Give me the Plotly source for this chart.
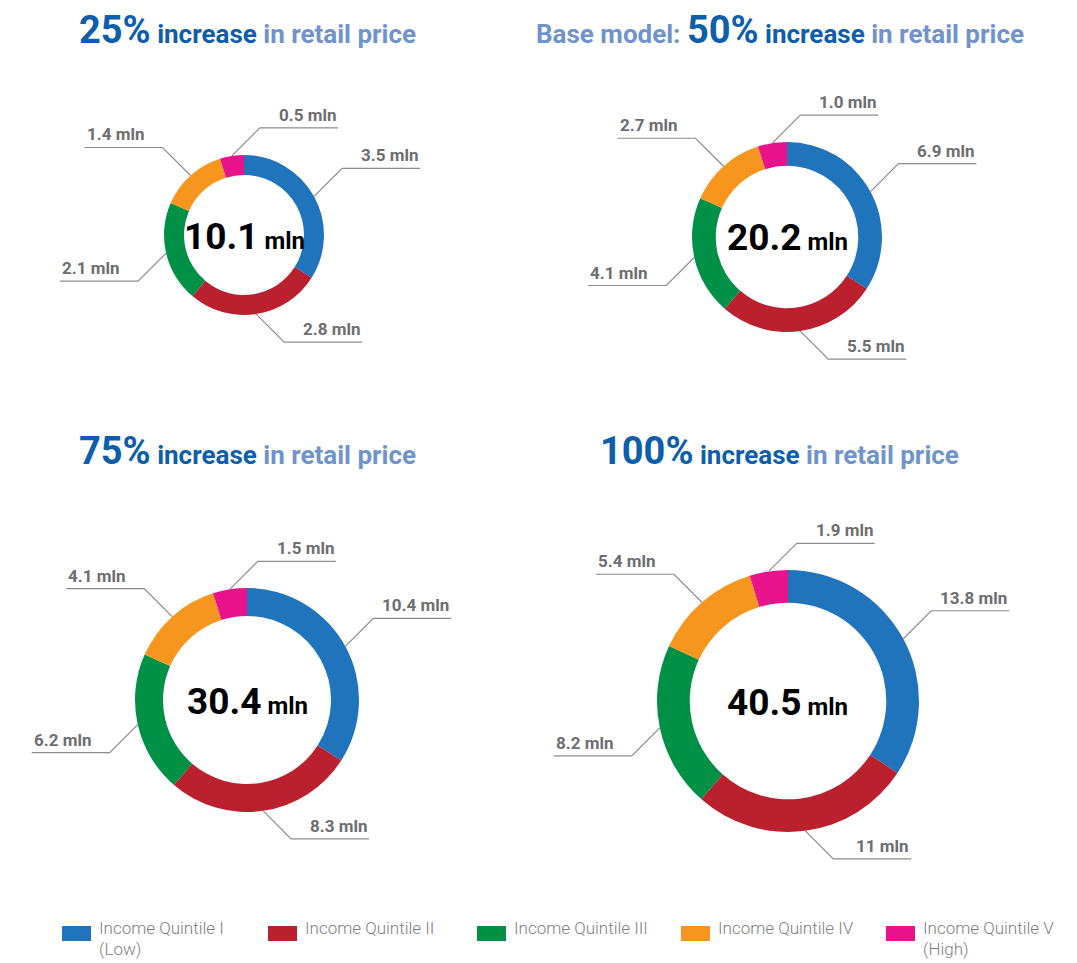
import math
import plotly.graph_objects as go

# ---------------- data ----------------
categories = ["Income Quintile I<br>(Low)", "Income Quintile II", "Income Quintile III",
              "Income Quintile IV", "Income Quintile V<br>(High)"]
scenario_pct = ["25%", "50%", "75%", "100%"]
values_25 = [3.5, 2.8, 2.1, 1.4, 0.5]
values_50 = [6.9, 5.5, 4.1, 2.7, 1.0]
values_75 = [10.4, 8.3, 6.2, 4.1, 1.5]
values_100 = [13.8, 11, 8.2, 5.4, 1.9]
labels_25 = ["3.5", "2.8", "2.1", "1.4", "0.5"]
labels_50 = ["6.9", "5.5", "4.1", "2.7", "1.0"]
labels_75 = ["10.4", "8.3", "6.2", "4.1", "1.5"]
labels_100 = ["13.8", "11", "8.2", "5.4", "1.9"]
totals = ["10.1", "20.2", "30.4", "40.5"]

# ---------------- style / layout ----------------
W, H = 1077, 963
colors = ["#1f74bb", "#bb202f", "#009046", "#f6961f", "#e8138b"]
DARK = "#0d5eab"
LIGHT = "#7093cc"
LABEL_GRAY = "#6d6e71"
LINE_GRAY = "#8c8c8c"
LEGEND_GRAY = "#7f7f81"
FONT_B = "Roboto, Liberation Sans, Arial, sans-serif"

# pixel centers / radii of each donut and title anchor
geo = [
    dict(cx=236, cy=227, r=80, tx=239, ty=22, prefix=""),
    dict(cx=779, cy=229, r=95, tx=772, ty=22, prefix="Base model: "),
    dict(cx=239, cy=692, r=112, tx=239, ty=443, prefix=""),
    dict(cx=780, cy=693, r=131, tx=771, ty=443, prefix=""),
]
label_side = [1, 1, -1, -1, 1]  # +1 right, -1 left
DIAG = 28
HLEN = 78

series = [values_25, values_50, values_75, values_100]
series_labels = [labels_25, labels_50, labels_75, labels_100]


def px(x):
    return x / W


def py(y):
    return 1 - y / H


fig = go.Figure()
shapes = []
annotations = []

for k, g in enumerate(geo):
    vals = series[k]
    fig.add_trace(go.Pie(
        values=vals, labels=[c.replace("<br>", " ") for c in categories],
        hole=0.75, sort=False, direction="clockwise", rotation=0,
        marker=dict(colors=colors, line=dict(width=0)),
        textinfo="none", hoverinfo="label+value", showlegend=False,
        domain=dict(x=[px(g["cx"] - g["r"]), px(g["cx"] + g["r"])],
                    y=[py(g["cy"] + g["r"]), py(g["cy"] - g["r"])]),
    ))
    # center total
    annotations.append(dict(
        x=px(g["cx"]), y=py(g["cy"] + 1), xref="paper", yref="paper",
        xanchor="center", yanchor="middle", showarrow=False,
        text=f"<b>{totals[k]}</b><span style='font-size:24px'><b> mln</b></span>",
        font=dict(family=FONT_B, size=37, color="#000000"),
    ))
    # title
    pre = f"<span style='color:{LIGHT}'><b>{g['prefix']}</b></span>" if g["prefix"] else ""
    annotations.append(dict(
        x=px(g["tx"]), y=py(g["ty"]), xref="paper", yref="paper",
        xanchor="center", yanchor="middle", showarrow=False,
        text=(pre + f"<span style='font-size:38px'><b>{scenario_pct[k]}</b></span>"
              f"<b> increase </b><span style='color:{LIGHT}'><b>in retail price</b></span>"),
        font=dict(family=FONT_B, size=26, color=DARK),
    ))
    # leader lines and labels
    total = sum(vals)
    cum = 0
    for i, v in enumerate(vals):
        mid = (cum + v / 2) / total * 2 * math.pi
        cum += v
        sx = g["cx"] + g["r"] * math.sin(mid)
        sy = g["cy"] - g["r"] * math.cos(mid)
        up = -1 if math.cos(mid) > 0 else 1
        side = label_side[i]
        ex = sx + side * DIAG
        ey = sy + up * DIAG
        hx = ex + side * HLEN
        shapes.append(dict(
            type="path", xref="paper", yref="paper",
            path=f"M {px(sx)},{py(sy)} L {px(ex)},{py(ey)} L {px(hx)},{py(ey)}",
            line=dict(color=LINE_GRAY, width=1.2),
        ))
        annotations.append(dict(
            x=px(hx), y=py(ey - 1), xref="paper", yref="paper",
            xanchor="right" if side > 0 else "left", yanchor="bottom",
            showarrow=False, text=f"<b>{series_labels[k][i]} mln</b>",
            font=dict(family=FONT_B, size=17, color=LABEL_GRAY),
        ))

# custom legend
legend_x = [54, 260, 469, 673, 878]
for i, c in enumerate(categories):
    x0 = legend_x[i]
    shapes.append(dict(type="rect", xref="paper", yref="paper",
                       x0=px(x0), x1=px(x0 + 29), y0=py(933), y1=py(918),
                       fillcolor=colors[i], line=dict(width=0)))
    for j, line in enumerate(c.split("<br>")):
        annotations.append(dict(
            x=px(x0 + 35), y=py(920 + 21 * j), xref="paper", yref="paper",
            xanchor="left", yanchor="middle", align="left", showarrow=False,
            text=line, font=dict(family=FONT_B, size=17, color=LEGEND_GRAY, weight=300),
        ))

fig.update_layout(
    width=W, height=H, margin=dict(l=0, r=0, t=0, b=0),
    paper_bgcolor="white", plot_bgcolor="white",
    shapes=shapes, annotations=annotations,
)
fig.write_html("out.html")
